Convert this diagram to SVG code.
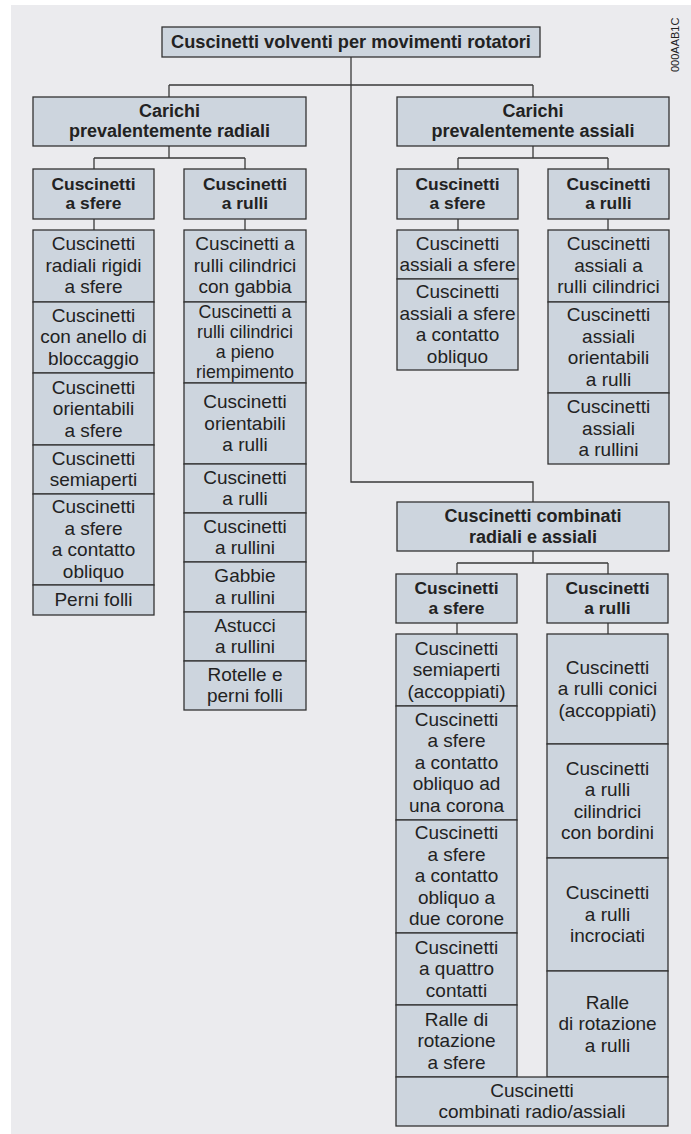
<svg xmlns="http://www.w3.org/2000/svg" width="691" height="1134" viewBox="0 0 691 1134">
<style>
.bg{fill:#EBEBEE}
.b{fill:#CDD5DE;stroke:#333;stroke-width:1.3}
.t{font-family:"Liberation Sans",Arial,sans-serif;font-size:19px;fill:#222;text-anchor:middle}
.s{font-size:17.8px}
.h{font-family:"Liberation Sans",Arial,sans-serif;font-size:17.4px;font-weight:700;fill:#222;text-anchor:middle}
.hl{font-size:18px}
.ti{font-size:18.2px}
.c{fill:none;stroke:#3a3a3a;stroke-width:1.3}
.code{font-family:"Liberation Sans",sans-serif;font-size:11px;fill:#222}
</style>
<rect class="bg" x="11" y="5" width="680" height="1129"/>
<text class="code" transform="translate(679,72) rotate(-90)">000AAB1C</text>
<g id="connectors">
<path class="c" d="M351,57 V482 H533 V502"/>
<path class="c" d="M169,85 H533 M169,85 V97 M533,85 V97"/>
<path class="c" d="M169,146 V158 M94,158 H245 M94,158 V169 M245,158 V169"/>
<path class="c" d="M533,146 V158 M458,158 H608 M458,158 V169 M608,158 V169"/>
<path class="c" d="M94,219 V230 M245,219 V230 M458,219 V230 M608,219 V230"/>
<path class="c" d="M533,551 V563 M457,563 H608 M457,563 V574 M608,563 V574"/>
<path class="c" d="M457,623 V634 M608,623 V634"/>
</g>
<g id="root"><rect class="b" x="162" y="27" width="378" height="30"/><text class="h ti" x="351" y="48.3">Cuscinetti volventi per movimenti rotatori</text></g>
<g id="radiali"><rect class="b" x="33" y="97" width="273" height="49"/><text class="h hl" x="169.5" y="116.5">Carichi</text><text class="h hl" x="169.5" y="137">prevalentemente radiali</text></g>
<g id="assiali"><rect class="b" x="397" y="97" width="272" height="49"/><text class="h hl" x="533" y="116.5">Carichi</text><text class="h hl" x="533" y="137">prevalentemente assiali</text></g>
<g id="rad-sfere"><rect class="b" x="33" y="169" width="121" height="50"/><text class="h" x="93.5" y="189.7">Cuscinetti</text><text class="h" x="93.5" y="209.3">a sfere</text></g>
<g id="rad-rulli"><rect class="b" x="184" y="169" width="122" height="50"/><text class="h" x="245" y="189.7">Cuscinetti</text><text class="h" x="245" y="209.3">a rulli</text></g>
<g id="ass-sfere"><rect class="b" x="397" y="169" width="121" height="50"/><text class="h" x="457.5" y="189.7">Cuscinetti</text><text class="h" x="457.5" y="209.3">a sfere</text></g>
<g id="ass-rulli"><rect class="b" x="548" y="169" width="121" height="50"/><text class="h" x="608.5" y="189.7">Cuscinetti</text><text class="h" x="608.5" y="209.3">a rulli</text></g>

<g id="rs1"><rect class="b" x="33" y="230" width="121" height="72"/><text class="t" x="93.5" y="250">Cuscinetti</text><text class="t" x="93.5" y="271.5">radiali rigidi</text><text class="t" x="93.5" y="293">a sfere</text></g>
<g id="rs2"><rect class="b" x="33" y="302" width="121" height="71"/><text class="t" x="93.5" y="321.5">Cuscinetti</text><text class="t" x="93.5" y="343">con anello di</text><text class="t" x="93.5" y="364.5">bloccaggio</text></g>
<g id="rs3"><rect class="b" x="33" y="373" width="121" height="72"/><text class="t" x="93.5" y="393.5">Cuscinetti</text><text class="t" x="93.5" y="415">orientabili</text><text class="t" x="93.5" y="436.5">a sfere</text></g>
<g id="rs4"><rect class="b" x="33" y="445" width="121" height="49"/><text class="t" x="93.5" y="464.5">Cuscinetti</text><text class="t" x="93.5" y="486">semiaperti</text></g>
<g id="rs5"><rect class="b" x="33" y="494" width="121" height="91"/><text class="t" x="93.5" y="513">Cuscinetti</text><text class="t" x="93.5" y="534.5">a sfere</text><text class="t" x="93.5" y="556">a contatto</text><text class="t" x="93.5" y="577.5">obliquo</text></g>
<g id="rs6"><rect class="b" x="33" y="585" width="121" height="30"/><text class="t" x="93.5" y="605.8">Perni folli</text></g>

<g id="rr1"><rect class="b" x="184" y="230" width="122" height="72"/><text class="t" x="245" y="250">Cuscinetti a</text><text class="t" x="245" y="271.5">rulli cilindrici</text><text class="t" x="245" y="293">con gabbia</text></g>
<g id="rr2"><rect class="b" x="184" y="302" width="122" height="81"/><text class="t s" x="245" y="318.3">Cuscinetti a</text><text class="t s" x="245" y="338.3">rulli cilindrici</text><text class="t s" x="245" y="358.3">a pieno</text><text class="t s" x="245" y="378.3">riempimento</text></g>
<g id="rr3"><rect class="b" x="184" y="383" width="122" height="81"/><text class="t" x="245" y="408">Cuscinetti</text><text class="t" x="245" y="429.5">orientabili</text><text class="t" x="245" y="451">a rulli</text></g>
<g id="rr4"><rect class="b" x="184" y="464" width="122" height="49"/><text class="t" x="245" y="483.5">Cuscinetti</text><text class="t" x="245" y="505">a rulli</text></g>
<g id="rr5"><rect class="b" x="184" y="513" width="122" height="49"/><text class="t" x="245" y="532.5">Cuscinetti</text><text class="t" x="245" y="554">a rullini</text></g>
<g id="rr6"><rect class="b" x="184" y="562" width="122" height="50"/><text class="t" x="245" y="582">Gabbie</text><text class="t" x="245" y="603.5">a rullini</text></g>
<g id="rr7"><rect class="b" x="184" y="612" width="122" height="49"/><text class="t" x="245" y="631.5">Astucci</text><text class="t" x="245" y="653">a rullini</text></g>
<g id="rr8"><rect class="b" x="184" y="661" width="122" height="49"/><text class="t" x="245" y="680.5">Rotelle e</text><text class="t" x="245" y="702">perni folli</text></g>

<g id="as1"><rect class="b" x="397" y="230" width="121" height="49"/><text class="t" x="457.5" y="249.5">Cuscinetti</text><text class="t" x="457.5" y="271">assiali a sfere</text></g>
<g id="as2"><rect class="b" x="397" y="279" width="121" height="91"/><text class="t" x="457.5" y="298">Cuscinetti</text><text class="t" x="457.5" y="319.5">assiali a sfere</text><text class="t" x="457.5" y="341">a contatto</text><text class="t" x="457.5" y="362.5">obliquo</text></g>

<g id="ar1"><rect class="b" x="548" y="230" width="121" height="72"/><text class="t" x="608.5" y="250">Cuscinetti</text><text class="t" x="608.5" y="271.5">assiali a</text><text class="t" x="608.5" y="293">rulli cilindrici</text></g>
<g id="ar2"><rect class="b" x="548" y="302" width="121" height="91"/><text class="t" x="608.5" y="321">Cuscinetti</text><text class="t" x="608.5" y="342.5">assiali</text><text class="t" x="608.5" y="364">orientabili</text><text class="t" x="608.5" y="385.5">a rulli</text></g>
<g id="ar3"><rect class="b" x="548" y="393" width="121" height="71"/><text class="t" x="608.5" y="413">Cuscinetti</text><text class="t" x="608.5" y="434.5">assiali</text><text class="t" x="608.5" y="456">a rullini</text></g>

<g id="combinati"><rect class="b" x="397" y="502" width="272" height="49"/><text class="h hl" x="533" y="521.5">Cuscinetti combinati</text><text class="h hl" x="533" y="542.5">radiali e assiali</text></g>
<g id="comb-sfere"><rect class="b" x="396" y="574" width="121" height="49"/><text class="h" x="456.5" y="594.2">Cuscinetti</text><text class="h" x="456.5" y="613.8">a sfere</text></g>
<g id="comb-rulli"><rect class="b" x="547" y="574" width="121" height="49"/><text class="h" x="607.5" y="594.2">Cuscinetti</text><text class="h" x="607.5" y="613.8">a rulli</text></g>

<g id="cs1"><rect class="b" x="396" y="634" width="121" height="72"/><text class="t" x="456.5" y="654.5">Cuscinetti</text><text class="t" x="456.5" y="676">semiaperti</text><text class="t" x="456.5" y="697.5">(accoppiati)</text></g>
<g id="cs2"><rect class="b" x="396" y="706" width="121" height="114"/><text class="t" x="456.5" y="725.8">Cuscinetti</text><text class="t" x="456.5" y="747.3">a sfere</text><text class="t" x="456.5" y="768.8">a contatto</text><text class="t" x="456.5" y="790.3">obliquo ad</text><text class="t" x="456.5" y="811.8">una corona</text></g>
<g id="cs3"><rect class="b" x="396" y="820" width="121" height="113"/><text class="t" x="456.5" y="839.3">Cuscinetti</text><text class="t" x="456.5" y="860.8">a sfere</text><text class="t" x="456.5" y="882.3">a contatto</text><text class="t" x="456.5" y="903.8">obliquo a</text><text class="t" x="456.5" y="925.3">due corone</text></g>
<g id="cs4"><rect class="b" x="396" y="933" width="121" height="72"/><text class="t" x="456.5" y="953.5">Cuscinetti</text><text class="t" x="456.5" y="975">a quattro</text><text class="t" x="456.5" y="996.5">contatti</text></g>
<g id="cs5"><rect class="b" x="396" y="1005" width="121" height="72"/><text class="t" x="456.5" y="1025.5">Ralle di</text><text class="t" x="456.5" y="1047">rotazione</text><text class="t" x="456.5" y="1068.5">a sfere</text></g>

<g id="cr1"><rect class="b" x="547" y="634" width="121" height="110"/><text class="t" x="607.5" y="673.5">Cuscinetti</text><text class="t" x="607.5" y="695">a rulli conici</text><text class="t" x="607.5" y="716.5">(accoppiati)</text></g>
<g id="cr2"><rect class="b" x="547" y="744" width="121" height="114"/><text class="t" x="607.5" y="774.5">Cuscinetti</text><text class="t" x="607.5" y="796">a rulli</text><text class="t" x="607.5" y="817.5">cilindrici</text><text class="t" x="607.5" y="839">con bordini</text></g>
<g id="cr3"><rect class="b" x="547" y="858" width="121" height="113"/><text class="t" x="607.5" y="899">Cuscinetti</text><text class="t" x="607.5" y="920.5">a rulli</text><text class="t" x="607.5" y="942">incrociati</text></g>
<g id="cr4"><rect class="b" x="547" y="971" width="121" height="106"/><text class="t" x="607.5" y="1008.5">Ralle</text><text class="t" x="607.5" y="1030">di rotazione</text><text class="t" x="607.5" y="1051.5">a rulli</text></g>

<g id="comb-radioassiali"><rect class="b" x="396" y="1077" width="272" height="49"/><text class="t" x="532" y="1096.5">Cuscinetti</text><text class="t" x="532" y="1118">combinati radio/assiali</text></g>
</svg>
